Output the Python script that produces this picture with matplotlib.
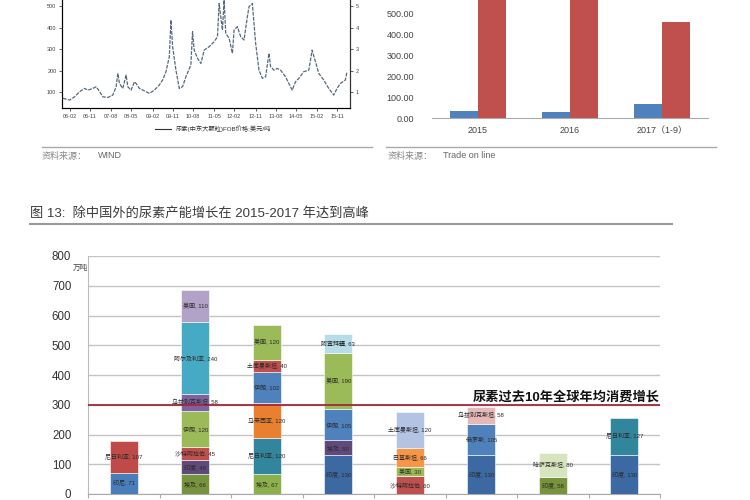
import numpy as np
import matplotlib
matplotlib.use("Agg")
import matplotlib.pyplot as plt
from matplotlib.lines import Line2D

plt.rcParams['font.family'] = ['Liberation Sans', 'Noto Sans CJK SC', 'DejaVu Sans']

W, H = 750, 500

# top-left: urea price series (weeks since start, USD/t)
weeks = [0, 4, 7, 10, 13, 15, 18, 20, 22, 24, 27, 30, 32, 33, 34, 36, 38, 39, 41, 43,
         44, 46, 50, 52, 55, 58, 60, 62, 64, 65, 66, 68, 70, 72, 74, 77, 78, 79, 81, 83,
         85, 88, 91, 93, 94, 96, 97, 98, 100, 102, 103, 105, 107, 109, 111, 112, 114, 115, 116, 118,
         120, 122, 124, 125, 127, 129, 131, 134, 136, 138, 140, 142, 145, 148, 150, 152, 154, 157, 160, 163,
         165, 167, 170, 171]
prices = [71, 63, 78, 102, 117, 109, 117, 125, 102, 78, 75, 86, 125, 187, 140, 117, 179, 125, 109, 148,
          140, 117, 102, 94, 109, 133, 156, 195, 264, 435, 311, 202, 117, 125, 171, 226, 381, 295, 257, 233,
          295, 311, 334, 357, 512, 388, 528, 373, 350, 280, 388, 404, 357, 342, 450, 497, 512, 419, 326, 202,
          164, 171, 280, 218, 202, 210, 202, 171, 140, 109, 148, 164, 195, 202, 295, 241, 187, 156, 117, 86,
          117, 140, 156, 195]
date_labels = ['06-02', '06-11', '07-08', '08-05', '09-02', '09-11', '10-08',
               '11-05', '12-02', '12-11', '13-08', '14-05', '15-02', '15-11']
date_pos = [4, 16, 29, 41, 54, 66, 78, 91, 103, 116, 128, 140, 153, 165]

# top-right: trade bars
trade_years = ['2015', '2016', '2017（1-9）']
trade_blue = [35, 28, 68]
trade_red = [640, 610, 455]

# main chart: capacity additions ex-China (10k t)
seg_values = [
    [71, 107],
    [66, 48, 45, 120, 58, 240, 110],
    [67, 120, 120, 102, 40, 120],
    [130, 50, 105, 190, 63],
    [60, 30, 66, 120],
    [130, 105, 58],
    [58, 80],
    [130, 127],
]
seg_labels = [
    ['印尼', '尼日利亚'],
    ['埃及', '印度', '沙特阿拉伯', '伊朗', '乌兹别克斯坦', '阿尔及利亚', '美国'],
    ['埃及', '尼日利亚', '马来西亚', '伊朗', '土库曼斯坦', '美国'],
    ['印度', '埃及', '伊朗', '美国', '阿塞拜疆'],
    ['沙特阿拉伯', '美国', '巴基斯坦', '土库曼斯坦'],
    ['印度', '俄罗斯', '乌兹别克斯坦'],
    ['印度', '哈萨克斯坦'],
    ['印度', '尼日利亚'],
]
seg_colors = [
    ['#4a7ebb', '#be4b48'],
    ['#77933c', '#604a7b', '#c0504d', '#9bbb59', '#7e62a0', '#46aac4', '#b3a2c7'],
    ['#8cb04a', '#31859c', '#e9802f', '#4f81bd', '#c0504d', '#9bbb59'],
    ['#3d69a3', '#604a7b', '#4f81bd', '#9bbb59', '#b7dee8'],
    ['#c0504d', '#9bbb59', '#f79646', '#b3c3e3'],
    ['#3d69a3', '#4f81bd', '#e6b9b8'],
    ['#77933c', '#d7e4bd'],
    ['#3d69a3', '#31859c'],
]
avg_growth = 300


def box(l, t, r, b):
    return [l / W, 1 - b / H, (r - l) / W, (b - t) / H]


fig = plt.figure(figsize=(7.5, 5), dpi=100)
fig.patch.set_facecolor('white')

# ---- top-left line chart
ax1 = fig.add_axes(box(62, 0, 350, 108))
ax1.plot(weeks, prices, color='#56697a', lw=0.9, ls=(0, (3, 1)))
ax1.set_xlim(-0.6, 172.8)
ax1.set_ylim(26, 528)
ax1.set_yticks([100, 200, 300, 400, 500])
ax1.set_xticks(date_pos)
ax1.set_xticklabels(date_labels)
ax1.tick_params(labelsize=4, colors='#444', length=2, width=0.6, pad=2)
ax1.spines['top'].set_visible(False)
for s in ['left', 'bottom', 'right']:
    ax1.spines[s].set_color('#333')
    ax1.spines[s].set_linewidth(0.8)
ax1r = ax1.twinx()
ax1r.set_ylim(0.26, 5.28)
ax1r.set_yticks([1, 2, 3, 4, 5])
ax1r.tick_params(labelsize=4, colors='#444', length=2, width=0.6, pad=2)
ax1r.spines['top'].set_visible(False)
ax1r.spines['right'].set_color('#333')
fig.legend(handles=[Line2D([], [], color='#333', lw=0.8)],
           labels=['尿素(中东大颗粒)FOB价格:美元/吨'],
           loc='center', bbox_to_anchor=(213 / W, 1 - 129 / H), frameon=False,
           fontsize=4.5, handlelength=2.5, labelcolor='#333')

# ---- top-right bar chart
ax2 = fig.add_axes(box(432, 0, 708, 118))
x2 = np.arange(len(trade_years))
ax2.bar(x2 - 0.15, trade_blue, width=0.3, color='#4f81bd')
ax2.bar(x2 + 0.15, trade_red, width=0.3, color='#c0504d')
ax2.set_xlim(-0.5, 2.5)
ax2.set_ylim(0, 562)
ax2.set_yticks([0, 100, 200, 300, 400, 500])
ax2.set_yticklabels(['%.2f' % v for v in [0, 100, 200, 300, 400, 500]])
ax2.set_xticks(x2)
ax2.set_xticklabels(trade_years)
ax2.tick_params(axis='y', labelsize=6.5, colors='#444', length=0, pad=13)
ax2.tick_params(axis='x', labelsize=6.5, colors='#444', length=0, pad=6)
for s in ['left', 'top', 'right']:
    ax2.spines[s].set_visible(False)
ax2.spines['bottom'].set_color('#aaa')

# ---- separators and sources
fig.add_artist(Line2D([42 / W, 372 / W], [1 - 147 / H] * 2, color='#aaa', lw=1))
fig.add_artist(Line2D([386 / W, 716 / W], [1 - 147 / H] * 2, color='#aaa', lw=1))
fig.text(42 / W, 1 - 156 / H, '资料来源：', fontsize=6.5, color='#888', style='italic', va='center')
fig.text(98 / W, 1 - 156 / H, 'WIND', fontsize=6.5, color='#666', va='center')
fig.text(388 / W, 1 - 156 / H, '资料来源：', fontsize=6.5, color='#888', style='italic', va='center')
fig.text(443 / W, 1 - 156 / H, 'Trade on line', fontsize=6.5, color='#666', va='center')

# ---- title
fig.text(30 / W, 1 - 213 / H, '图 13:  除中国外的尿素产能增长在 2015-2017 年达到高峰',
         fontsize=9.5, color='#3a3a3a', va='center')
fig.add_artist(Line2D([30 / W, 672 / W], [1 - 224 / H] * 2, color='#999', lw=1.5))

# ---- main stacked chart
ax3 = fig.add_axes(box(88, 256, 660, 494))
for i, (vals, labs, cols) in enumerate(zip(seg_values, seg_labels, seg_colors)):
    bottom = 0
    for v, lab, c in zip(vals, labs, cols):
        ax3.bar(i, v, bottom=bottom, width=0.39, color=c, edgecolor='white', linewidth=0.4, zorder=3)
        ax3.text(i, bottom + v / 2, '%s, %d' % (lab, v), ha='center', va='center',
                 fontsize=4.3, color='#2a2a2a', zorder=5)
        bottom += v
ax3.set_xlim(-0.5, len(seg_values) - 0.5)
ax3.set_ylim(0, 800)
ax3.set_yticks(range(0, 801, 100))
ax3.yaxis.grid(True, color='#c4c4c4', lw=1)
ax3.set_axisbelow(True)
ax3.set_xticks(np.arange(len(seg_values) + 1) - 0.5)
ax3.set_xticklabels([])
ax3.tick_params(axis='y', labelsize=8.3, colors='#333', length=0, pad=12)
ax3.tick_params(axis='x', length=3, color='#aaa')
for s in ['top', 'right']:
    ax3.spines[s].set_visible(False)
ax3.spines['left'].set_color('#bbb')
ax3.spines['bottom'].set_color('#aaa')
ax3.axhline(avg_growth, color='#a3283a', lw=1.3, zorder=4)
ax3.text(len(seg_values) - 0.5, avg_growth + 4, '尿素过去10年全球年均消费增长', ha='right', va='bottom',
         fontsize=9.5, fontweight='bold', color='#111', zorder=6)
fig.text(73 / W, 1 - 268 / H, '万吨', fontsize=5.5, color='#444', va='center')

fig.savefig('out.png', dpi=100)
